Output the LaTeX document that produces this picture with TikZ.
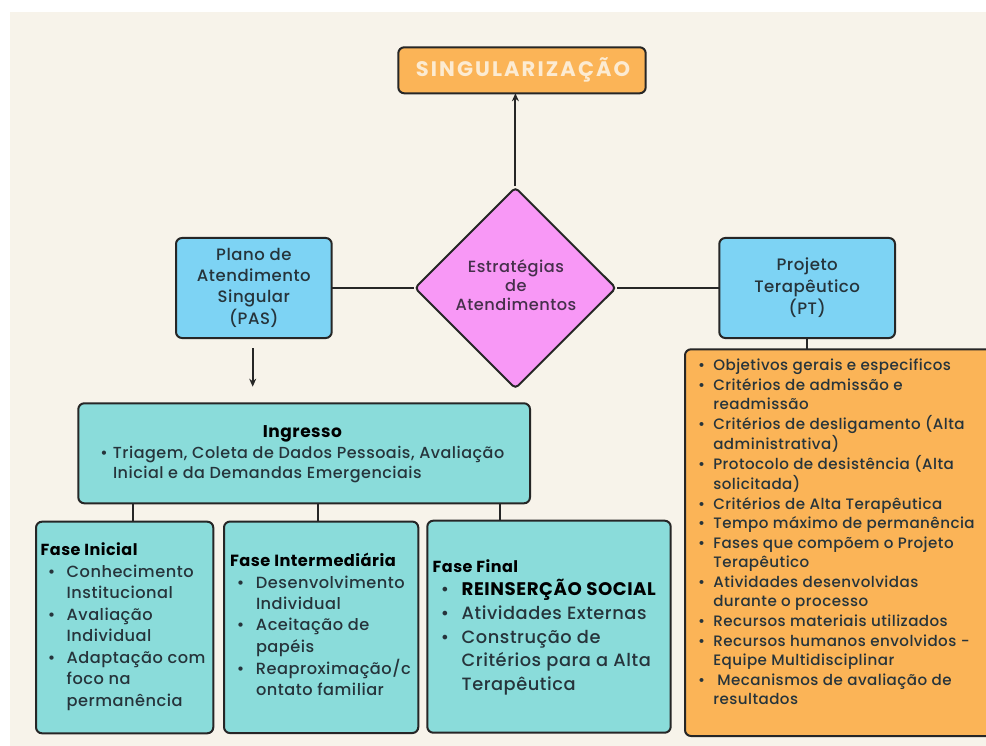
\documentclass[tikz,border=0pt]{standalone}
\usepackage{fontspec}
\IfFontExistsTF{Poppins Medium}
 {\setmainfont{Poppins}[UprightFont={* Medium},BoldFont={* Bold},LetterSpace=3]}
 {\setmainfont{Poppins}[LetterSpace=3]}
\usetikzlibrary{shapes.geometric,arrows.meta}
\definecolor{cream}{HTML}{F7F3EA}
\definecolor{orangeC}{HTML}{FBB457}
\definecolor{blueC}{HTML}{7DD3F4}
\definecolor{pinkC}{HTML}{F898F6}
\definecolor{tealC}{HTML}{8ADCDA}
\definecolor{edgeC}{HTML}{262626}
\definecolor{txtC}{HTML}{26343B}
\definecolor{purpC}{HTML}{45304B}
\definecolor{singC}{HTML}{FCEBD2}
\newlength\bw \newlength\bo
\newcommand\itm{\makebox[\bw][l]{\hspace{\bo}\makebox[0pt]{\textbullet}}}
\newcommand\cnt{\hspace*{\bw}}
\newcommand\fsz[2]{\fontsize{#1}{#2}\selectfont}
\begin{document}
\begin{tikzpicture}[x=1pt,y=-1pt,
 box/.style={draw=edgeC, line width=2pt, rounded corners=6pt, inner sep=0pt, outer sep=0pt},
 txt/.style={inner sep=0pt, outer sep=0pt, text=txtC},
 conn/.style={draw=edgeC, line width=2pt},
 tip/.style={-{Stealth[length=8pt,width=7pt]}}
]
\fill[white] (0,0) rectangle (986,746);
\fill[cream] (10,12.5) rectangle (986,746);
\useasboundingbox (0,0) rectangle (986,746);

% boxes
\node[box, fill=orangeC, minimum width=247.4pt, minimum height=46pt] (sing) at (522,70.3) {};
\node[box, fill=blueC, minimum width=155.7pt, minimum height=100pt] (pas) at (253.85,288) {};
\node[draw=edgeC, line width=2pt, fill=pinkC, diamond, aspect=1, rounded corners=4pt, inner sep=0pt,
      minimum width=201.7pt, minimum height=201.6pt] (diam) at (515.4,288) {};
\node[box, fill=blueC, minimum width=175.7pt, minimum height=100pt] (pt) at (807.15,288) {};
\node[box, fill=orangeC, minimum width=310pt, minimum height=386.7pt] (lst) at (840,542.65) {};
\node[box, fill=tealC, minimum width=451.7pt, minimum height=100pt] (ing) at (304.15,453.3) {};
\node[box, fill=tealC, minimum width=177.3pt, minimum height=211.6pt] (fi) at (124.65,627.5) {};
\node[box, fill=tealC, minimum width=194.3pt, minimum height=211.5pt] (fm) at (321.15,627.3) {};
\node[box, fill=tealC, minimum width=243.4pt, minimum height=212pt] (ff) at (549,626.7) {};

% connectors
\draw[conn, tip] (diam.north) -- (diam.north |- sing.south);
\draw[conn] (pas.east) -- (diam.west);
\draw[conn] (diam.east) -- (pt.west);
\draw[conn] (pt.south) -- (pt.south |- lst.north);
\coordinate (a1) at (252.7,348.3);
\coordinate (a2) at (252.7,386.7);
\draw[conn, tip] (a1) -- (a2);
\coordinate (c1) at (132.7,0);
\coordinate (c2) at (318.3,0);
\coordinate (c3) at (500,0);
\draw[conn] (c1 |- ing.south) -- (c1 |- fi.north);
\draw[conn] (c2 |- ing.south) -- (c2 |- fm.north);
\draw[conn] (c3 |- ing.south) -- (c3 |- ff.north);

% texts
\node[txt, text=singC, anchor=base] (singT) at (523,77)
 {\fsz{21}{21}\bfseries\addfontfeature{LetterSpace=10}SINGULARIZAÇÃO};
\node[txt, anchor=base] (pasT) at (253.85,261)
 {\fsz{16.5}{20.7}\begin{tabular}[t]{@{}c@{}}Plano de\\Atendimento\\Singular\\(PAS)\end{tabular}};
\node[txt, text=purpC, anchor=base] (diamT) at (515.9,272.7)
 {\fsz{16.2}{18.7}\begin{tabular}[t]{@{}c@{}}Estratégias\\de\\Atendimentos\end{tabular}};
\node[txt, anchor=base] (ptT) at (807.15,270.7)
 {\fsz{16.6}{21.7}\begin{tabular}[t]{@{}c@{}}Projeto\\Terapêutico\\(PT)\end{tabular}};
\node[txt, anchor=base west] (lstT) at (696.7,370.7)
 {\fsz{15.1}{19.55}\setlength\bo{5pt}\setlength\bw{16.6pt}\begin{tabular}[t]{@{}l@{}}
 \itm Objetivos gerais e especificos\\
 \itm Critérios de admissão e\\
 \cnt readmissão\\
 \itm Critérios de desligamento (Alta\\
 \cnt administrativa)\\
 \itm Protocolo de desistência (Alta\\
 \cnt solicitada)\\
 \itm Critérios de Alta Terapêutica\\
 \itm Tempo máximo de permanência\\
 \itm Fases que compõem o Projeto\\
 \cnt Terapêutico\\
 \itm Atividades desenvolvidas\\
 \cnt durante o processo\\
 \itm Recursos materiais utilizados\\
 \itm Recursos humanos envolvidos -\\
 \cnt Equipe Multidisciplinar\\
 \itm \hspace{4pt}Mecanismos de avaliação de\\
 \cnt resultados
 \end{tabular}};
\node[txt, text=black, anchor=base] (ingH) at (302.5,437.3) {\fsz{17}{17}\bfseries Ingresso};
\node[txt, anchor=base west] (ingT) at (100,458.3)
 {\fsz{16}{20}\setlength\bo{4pt}\setlength\bw{13pt}\begin{tabular}[t]{@{}l@{}}
 \itm Triagem, Coleta de Dados Pessoais, Avaliação\\
 \cnt Inicial e da Demandas Emergenciais
 \end{tabular}};
\node[txt, anchor=base west] (fiT) at (40.7,555.7)
 {\fsz{16.2}{21.5}\setlength\bo{11pt}\setlength\bw{26pt}\begin{tabular}[t]{@{}l@{}}
 \textcolor{black}{\fsz{16}{21.5}\bfseries Fase Inicial}\\
 \itm Conhecimento\\
 \cnt Institucional\\
 \itm Avaliação\\
 \cnt Individual\\
 \itm Adaptação com\\
 \cnt foco na\\
 \cnt permanência
 \end{tabular}};
\node[txt, anchor=base west] (fmT) at (230,566.7)
 {\fsz{16.2}{21.4}\setlength\bo{10.7pt}\setlength\bw{26pt}\begin{tabular}[t]{@{}l@{}}
 \textcolor{black}{\fsz{16.2}{21.4}\bfseries Fase Intermediária}\\
 \itm Desenvolvimento\\
 \cnt Individual\\
 \itm Aceitação de\\
 \cnt papéis\\
 \itm Reaproximação/c\\
 \cnt ontato familiar
 \end{tabular}};
\node[txt, anchor=base west] (ffT) at (432.7,572.3)
 {\fsz{17.8}{23.6}\setlength\bo{12.3pt}\setlength\bw{29pt}\begin{tabular}[t]{@{}l@{}}
 \textcolor{black}{\fsz{16}{23.6}\bfseries Fase Final}\\
 \itm \textcolor{black}{\fsz{18.2}{23.6}\bfseries REINSERÇÃO SOCIAL}\\
 \itm Atividades Externas\\
 \itm Construção de\\
 \cnt Critérios para a Alta\\
 \cnt Terapêutica
 \end{tabular}};
\end{tikzpicture}
\end{document}
